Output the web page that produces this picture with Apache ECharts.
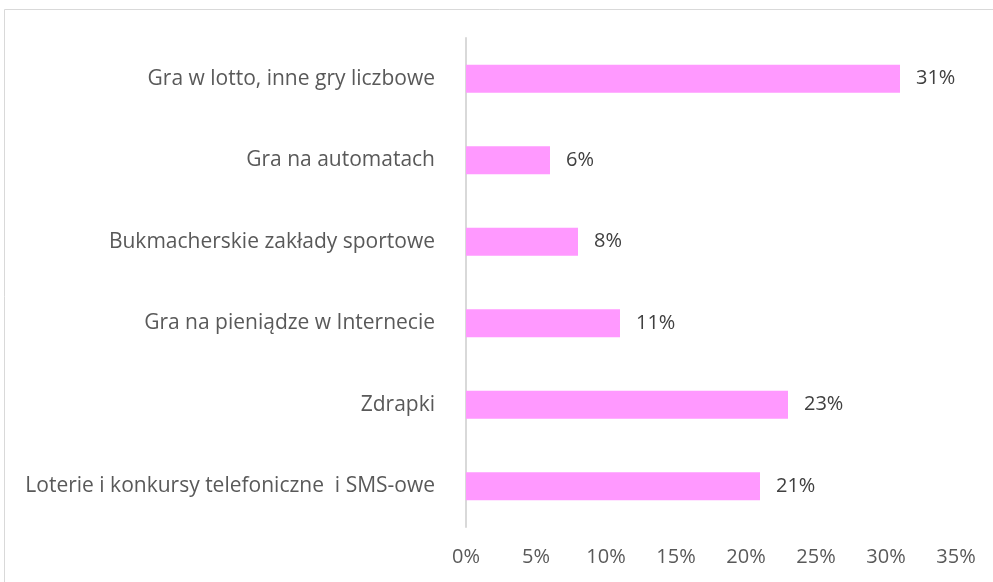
<!DOCTYPE html>
<html>
<head>
<meta charset="utf-8">
<script src="https://cdn.jsdelivr.net/npm/echarts@6/dist/echarts.min.js"></script>
<style>
  html, body { margin: 0; padding: 0; background: #fff; }
  #main { width: 993px; height: 582px; }
</style>
</head>
<body>
<div id="main"></div>
<script>
// kategorie od dołu do góry (oś kategorii w ECharts rośnie do góry)
var categories = [
    'Loterie i konkursy telefoniczne  i SMS-owe',
    'Zdrapki',
    'Gra na pieniądze w Internecie',
    'Bukmacherskie zakłady sportowe',
    'Gra na automatach',
    'Gra w lotto, inne gry liczbowe'
];
var values = [21, 23, 11, 8, 6, 31];
var tickMax = 35;
var tickStep = 5;

var myChart = echarts.init(document.getElementById('main'));

myChart.setOption({
    animation: false,
    textStyle: {
        fontFamily: 'Open Sans'
    },
    graphic: [{ // ramka wykresu
        type: 'rect',
        shape: { x: 4.5, y: 9.5, width: 1000, height: 600 },
        style: { fill: 'none', stroke: '#d9d9d9', lineWidth: 1 },
        silent: true
    }],
    grid: {
        left: 466,
        right: 37,
        top: 38,
        bottom: 55
    },
    xAxis: {
        type: 'value',
        min: 0,
        max: tickMax,
        interval: tickStep,
        axisLine: { show: false },
        axisTick: { show: false },
        splitLine: { show: false },
        axisLabel: {
            formatter: '{value}%',
            color: '#595959',
            fontSize: 20,
            margin: 20
        }
    },
    yAxis: {
        type: 'category',
        data: categories,
        axisLine: {
            show: true,
            lineStyle: { color: '#d9d9d9', width: 2 }
        },
        axisTick: { show: false },
        axisLabel: {
            color: '#595959',
            fontSize: 21,
            margin: 31
        }
    },
    series: [{
        type: 'bar',
        data: values,
        barWidth: 28,
        itemStyle: { color: '#ff99ff' },
        label: {
            show: true,
            position: 'right',
            distance: 16,
            formatter: '{c}%',
            color: '#404040',
            fontSize: 20
        }
    }]
});
</script>
</body>
</html>
